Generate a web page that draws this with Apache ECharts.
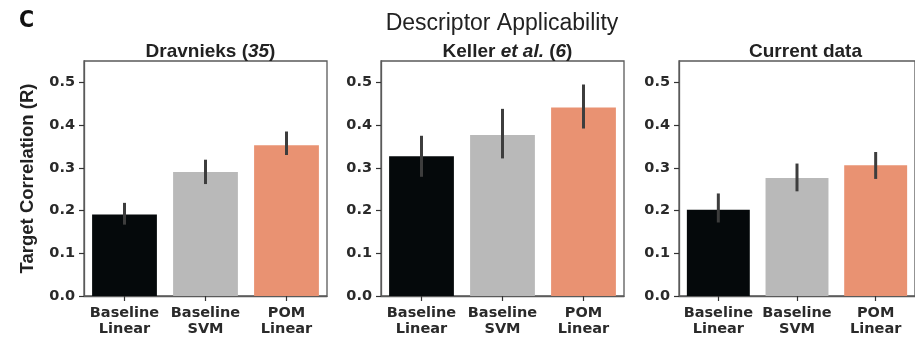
<!DOCTYPE html>
<html>
<head>
<meta charset="utf-8">
<script src="https://cdn.jsdelivr.net/npm/echarts@6/dist/echarts.min.js"></script>
<style>
  html, body { margin: 0; padding: 0; background: #fff; }
  #chart { width: 915px; height: 337px; }
</style>
</head>
<body>
<div id="chart"></div>
<script>
// Descriptor applicability: three panels, mean R with error bars
const categories = ['Baseline\nLinear', 'Baseline\nSVM', 'POM\nLinear'];
const yTicks = [0, 0.1, 0.2, 0.3, 0.4, 0.5];

const dravMean = [0.191, 0.290, 0.353];
const dravLow = [0.167, 0.262, 0.330];
const dravHigh = [0.218, 0.319, 0.385];

const kellerMean = [0.327, 0.377, 0.441];
const kellerLow = [0.279, 0.322, 0.392];
const kellerHigh = [0.375, 0.438, 0.495];

const currentMean = [0.202, 0.276, 0.306];
const currentLow = [0.172, 0.245, 0.274];
const currentHigh = [0.240, 0.310, 0.337];

const barColors = ['#05090b', '#b9b9b9', '#e99272'];

const panels = [
  { left: 84, title: '{b|Dravnieks (}{bi|35}{b|)}', mean: dravMean, low: dravLow, high: dravHigh },
  { left: 381, title: '{b|Keller }{bi|et al.}{b| (}{bi|6}{b|)}', mean: kellerMean, low: kellerLow, high: kellerHigh },
  { left: 679, title: '{b|Current data}', mean: currentMean, low: currentLow, high: currentHigh }
];

const PW = 243, PTOP = 61, PH = 237;
const tickFont = 'DejaVu Sans';

const chart = echarts.init(document.getElementById('chart'), null, { renderer: 'canvas' });

const grids = [], xAxes = [], yAxes = [], series = [];
const titles = [
  {
    text: 'C', left: 14, top: 5,
    textStyle: { fontFamily: 'DejaVu Sans Condensed, Liberation Sans', fontWeight: 'bold', fontSize: 23, color: '#111' }
  },
  {
    text: 'Descriptor Applicability', left: 497, top: 7, textAlign: 'center',
    textStyle: { fontFamily: 'Liberation Sans', fontWeight: 'normal', fontSize: 23, color: '#222' }
  }
];

panels.forEach((p, i) => {
  grids.push({
    left: p.left, top: PTOP, width: PW, height: PH,
    show: true, borderColor: '#5a5a5a', borderWidth: 1.3, backgroundColor: '#fff'
  });
  titles.push({
    text: p.title, left: p.left + PW / 2, top: 37, textAlign: 'center',
    textStyle: {
      rich: {
        b: { fontFamily: 'Liberation Sans', fontWeight: 'bold', fontSize: 19, color: '#222' },
        bi: { fontFamily: 'Liberation Sans', fontWeight: 'bold', fontStyle: 'italic', fontSize: 19, color: '#222' }
      }
    }
  });
  xAxes.push({
    type: 'category', gridIndex: i, data: categories,
    axisLine: { show: true, lineStyle: { color: '#5a5a5a', width: 1.3 } },
    axisTick: { show: true, alignWithLabel: true, length: 5, lineStyle: { color: '#333', width: 1.2 } },
    axisLabel: {
      interval: 0, margin: 9, fontFamily: tickFont, fontWeight: 'bold', fontSize: 14.5,
      lineHeight: 16, color: '#2a2a2a'
    }
  });
  yAxes.push({
    type: 'value', gridIndex: i, min: 0, max: 0.55,
    name: i === 0 ? 'Target Correlation (R)' : '',
    nameLocation: 'middle', nameGap: 47, nameRotate: 90,
    nameTextStyle: { fontFamily: 'Liberation Sans', fontWeight: 'bold', fontSize: 18.5, color: '#222' },
    splitLine: { show: false },
    axisLine: { show: true, lineStyle: { color: '#5a5a5a', width: 1.3 } },
    axisTick: { show: true, length: 5, customValues: yTicks, lineStyle: { color: '#333', width: 1.2 } },
    axisLabel: {
      margin: 9, customValues: yTicks, fontFamily: tickFont, fontWeight: 'bold', fontSize: 14.5,
      color: '#2a2a2a', formatter: v => v.toFixed(1)
    }
  });
  series.push({
    type: 'bar', xAxisIndex: i, yAxisIndex: i, barWidth: '80%',
    data: p.mean.map((v, k) => ({ value: v, itemStyle: { color: barColors[k] } })),
    animation: false
  });
  series.push({
    type: 'custom', xAxisIndex: i, yAxisIndex: i, z: 5,
    data: p.mean.map((v, k) => [k, p.low[k], p.high[k]]),
    renderItem: (params, api) => {
      const a = api.coord([api.value(0), api.value(1)]);
      const b = api.coord([api.value(0), api.value(2)]);
      return {
        type: 'line',
        shape: { x1: a[0], y1: a[1], x2: b[0], y2: b[1] },
        style: { stroke: '#3d3d3d', lineWidth: 3 }
      };
    },
    animation: false
  });
});

chart.setOption({
  backgroundColor: '#fff',
  animation: false,
  title: titles,
  grid: grids,
  xAxis: xAxes,
  yAxis: yAxes,
  series: series
});
</script>
</body>
</html>
